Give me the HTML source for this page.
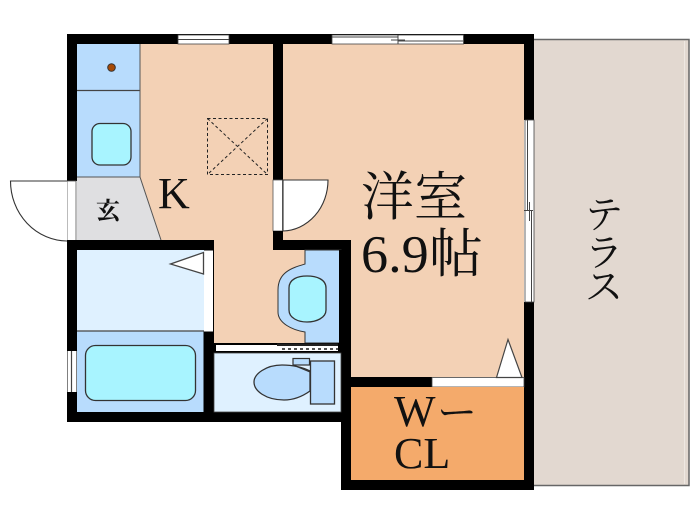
<!DOCTYPE html>
<html><head><meta charset="utf-8"><style>
html,body{margin:0;padding:0;background:#fff;width:700px;height:525px;overflow:hidden}
svg{display:block;filter:blur(.3px)}
text{font-family:"Liberation Serif","Noto Serif CJK JP",serif;fill:#111}
</style></head><body>
<svg width="700" height="525" viewBox="0 0 700 525" xmlns="http://www.w3.org/2000/svg">
<rect x="530" y="39.500" width="159" height="446" fill="#e2d8d0" stroke="#666" stroke-width="1.500"/>
<rect x="684" y="41" width="1" height="443" fill="#efe8e2"/>
<rect x="67" y="34" width="467" height="10" fill="#000"/>
<rect x="77" y="44" width="447" height="333" fill="#f3d1b5"/>
<rect x="214" y="250" width="127" height="103" fill="#f3d1b5"/>
<rect x="77" y="44" width="63" height="133" fill="#b8dcfd"/>
<line x1="77" y1="90.500" x2="140" y2="90.500" stroke="#444" stroke-width="1.200"/>
<polygon points="77,177 140,177 161,240 77,240" fill="#dfdfe1"/>
<path d="M140 44V177L161 240M77 177H140" fill="none" stroke="#555" stroke-width="1"/>
<rect x="92" y="123.500" width="39" height="41.500" rx="8" fill="#a8f4ff" stroke="#333" stroke-width="1.300"/>
<circle cx="111.500" cy="67.500" r="3.800" fill="#a84a05" stroke="#333" stroke-width="1"/>
<g fill="none" stroke="#222" stroke-width="1" stroke-dasharray="3 2.500">
<rect x="207.500" y="118.500" width="60" height="56"/>
<path d="M207.500 118.500L267.500 174.500M267.500 118.500L207.500 174.500"/>
</g>
<rect x="67" y="34" width="10" height="147" fill="#000"/>
<rect x="273" y="34" width="10" height="146" fill="#000"/>
<rect x="524" y="34" width="10" height="86" fill="#000"/>
<rect x="524" y="302" width="10" height="188" fill="#000"/>
<rect x="178" y="35" width="51" height="9" fill="#fff" stroke="#444" stroke-width=".8"/>
<line x1="178" y1="39.500" x2="229" y2="39.500" stroke="#444" stroke-width="1"/>
<rect x="332" y="35" width="131.500" height="9" fill="#fff" stroke="#444" stroke-width=".8"/>
<path d="M332 37H398M398 41H463M398 35V44M391 40H405" stroke="#444" stroke-width="1" fill="none"/>
<rect x="525" y="120" width="9" height="182" fill="#fff" stroke="#444" stroke-width=".8"/>
<path d="M527.500 120V210M531.500 210V302M524 210.500H533M529.500 202V221" stroke="#444" stroke-width="1" fill="none"/>
<rect x="67" y="181" width="9" height="60" fill="#fff" stroke="#555" stroke-width=".8"/>
<path d="M67 181H10.500A57 60 0 0 0 67 241" fill="#fff" stroke="#333" stroke-width="1.100"/>
<rect x="273" y="180" width="9.500" height="51" fill="#fff" stroke="#555" stroke-width=".8"/>
<path d="M283 180H328A46 51 0 0 1 283 231Z" fill="#fff" stroke="#333" stroke-width="1.100"/>
<rect x="67" y="240" width="147" height="10" fill="#000"/>
<rect x="67" y="240" width="10" height="182" fill="#000"/>
<rect x="67" y="412" width="284" height="10" fill="#000"/>
<rect x="273" y="231" width="10" height="19" fill="#000"/>
<rect x="273" y="240" width="78" height="10" fill="#000"/>
<rect x="341" y="240" width="10" height="250" fill="#000"/>
<rect x="203.500" y="250" width="10.500" height="162" fill="#000"/>
<rect x="77" y="250" width="127" height="81" fill="#dff1ff"/>
<rect x="77" y="331" width="126.500" height="81" fill="#b8dcfd"/>
<line x1="77" y1="331" x2="204" y2="331" stroke="#444" stroke-width="1.200"/>
<rect x="204" y="250.500" width="9" height="81" fill="#fff"/>
<polygon points="170.500,264 203.500,252.500 203.500,274" fill="#fff" stroke="#444" stroke-width="1.300"/>
<rect x="85.500" y="345.500" width="110" height="55" rx="10" fill="#a8f4ff" stroke="#333" stroke-width="1.300"/>
<rect x="67.500" y="351" width="9" height="41" fill="#fff"/>
<path d="M71.500 351V392" stroke="#444" stroke-width="1.200"/>
<path d="M305 250V264C292 268 278 272 278 290V312C278 323 292 330 305 332V343H341V250Z" fill="#b8dcfd" stroke="#333" stroke-width="1"/>
<rect x="339" y="250" width="3" height="94" fill="#000"/>
<path d="M289 288C289 279 298 276 307 276C316 276 326 279 326 288V310C326 318 316 322 307 322C298 322 289 318 289 310Z" fill="#a8f4ff" stroke="#333" stroke-width="1.300"/>
<rect x="214" y="343" width="127" height="10" fill="#000"/>
<rect x="216" y="345" width="122" height="6" fill="#fff"/>
<rect x="277" y="343.500" width="61" height="2.500" fill="#222"/>
<line x1="282" y1="349" x2="338" y2="349" stroke="#555" stroke-width="2" stroke-dasharray="3 3"/>
<rect x="214" y="353" width="127" height="59" fill="#dff1ff" stroke="#444" stroke-width=".8"/>
<path d="M310 371C300 366 290 365 282 365C266 365 254 374 254 382C254 391 266 400 284 400C294 400 303 396 310 391Z" fill="#b8dcfd" stroke="#333" stroke-width="1.300"/>
<path d="M293 365L310 372" stroke="#333" stroke-width="1"/>
<rect x="293" y="358.500" width="16.500" height="6.500" fill="#b8dcfd" stroke="#333" stroke-width="1.200"/>
<rect x="310.500" y="361" width="24" height="43" fill="#b8dcfd" stroke="#333" stroke-width="1.300"/>
<rect x="351" y="377" width="81" height="10" fill="#000"/>
<rect x="432" y="377.500" width="92" height="9.500" fill="#fff" stroke="#444" stroke-width=".8"/>
<polygon points="496.500,377.500 508,339.500 522,377.500" fill="#fff" stroke="#444" stroke-width="1.200"/>
<rect x="351" y="387" width="173" height="93" fill="#f4aa6b"/>
<rect x="341" y="480" width="193" height="10" fill="#000"/>
<text x="158" y="208" font-size="44">K</text>
<text x="96" y="219" font-size="24" font-weight="700">玄</text>
<text x="361" y="215" font-size="53">洋室</text>
<text x="361" y="272" font-size="53" textLength="122" lengthAdjust="spacingAndGlyphs">6.9帖</text>
<text x="394" y="426" font-size="44">W</text>
<text x="437" y="426" font-size="40">ー</text>
<text x="394" y="468" font-size="44">CL</text>
<text x="585" y="228" font-size="38">テ</text>
<text x="585" y="266" font-size="38">ラ</text>
<text x="585" y="300" font-size="38">ス</text>
</svg>
</body></html>
